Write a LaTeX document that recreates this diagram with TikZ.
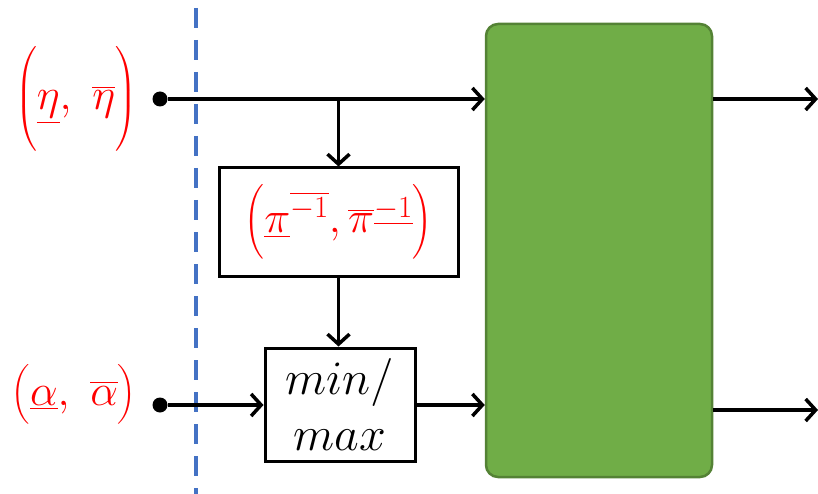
\documentclass[tikz,border=0pt]{standalone}
\usepackage{fix-cm}
\usepackage{amsmath}
\usepackage{tikz}
\usetikzlibrary{arrows.meta, positioning, calc}
\definecolor{myred}{RGB}{255,0,0}
\definecolor{myblue}{RGB}{68,114,196}
\definecolor{mygreen}{RGB}{112,173,71}
\definecolor{mygreendark}{RGB}{84,130,53}
\tikzset{
  box/.style={rectangle, draw=black, fill=white, line width=3pt,
    align=center, inner sep=0pt},
  procbox/.style={rectangle, draw=mygreendark, fill=mygreen,
    rounded corners=12pt, line width=2.5pt, inner sep=0pt},
  dot/.style={circle, fill=black, minimum size=15pt, inner sep=0pt},
  lbl/.style={text=myred, font=\fontsize{44}{52}\selectfont},
  arrow/.style={-{Straight Barb[length=10pt, width=22pt, line width=3.5pt]}, line width=3.5pt},
  dashline/.style={draw=myblue, line width=4.5pt, dash pattern=on 20pt off 12pt}
}

\begin{document}
\begin{tikzpicture}[x=1pt, y=-1pt]
  \useasboundingbox (0,0) rectangle (818,494);

  % Cut line
  \draw[dashline] (196,8) -- (196,494);

  % Blocks
  \node[procbox, minimum width=226pt, minimum height=453pt] (proc) at (599,250.5) {};
  \node[box, minimum width=239pt, minimum height=108pt, lbl] (pibox) at (338.5,222)
    {$\Bigl(\underline{\pi}^{\overline{-1}},\overline{\pi}^{\underline{-1}}\Bigr)$};
  \node[box, minimum width=150pt, minimum height=113pt,
    font=\fontsize{48}{56}\selectfont] (mmbox) at (340,404.5) {$min/$\\$max$};

  % Inputs
  \node[dot] (etain) at (160,99) {};
  \node[dot] (alphain) at (160,405) {};
  \node[lbl] (etalbl) at (76,99) {$\biggl(\underline{\eta},\ \overline{\eta}\biggr)$};
  \node[lbl] (alphalbl) at (74,394) {$\bigl(\underline{\alpha},\ \overline{\alpha}\bigr)$};
  \coordinate (split) at (pibox.north |- etain);

  % Outputs
  \coordinate (out1) at (818,99);
  \coordinate (out2) at (818,410);

  % Connections
  \draw[arrow] (etain) -- (proc.west |- etain);
  \draw[arrow] (split) -- (pibox.north);
  \draw[arrow] (pibox.south) -- (mmbox.north -| pibox.south);
  \draw[arrow] (alphain) -- (mmbox.west |- alphain);
  \draw[arrow] (mmbox.east |- alphain) -- (proc.west |- alphain);
  \draw[arrow] (proc.east |- out1) -- (out1);
  \draw[arrow] (proc.east |- out2) -- (out2);
\end{tikzpicture}
\end{document}
